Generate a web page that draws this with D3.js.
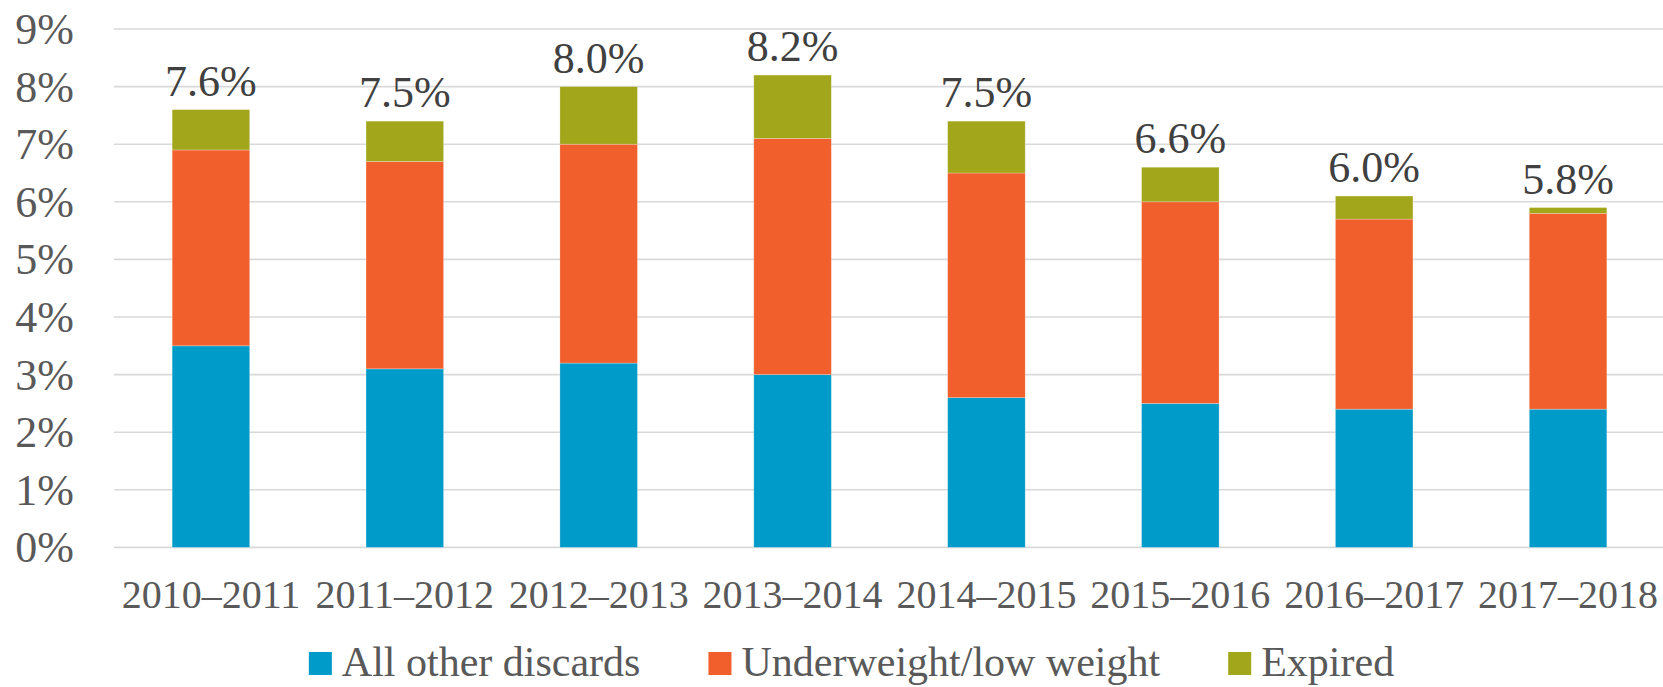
<!DOCTYPE html>
<html>
<head>
<meta charset="utf-8">
<script src="https://cdn.jsdelivr.net/npm/d3@7"></script>
<style>
  body { margin: 0; background: #fff; }
  svg { display: block; font-family: "Liberation Serif", "DejaVu Serif", serif; }
</style>
</head>
<body>
<div id="chart"></div>
<script>
const years = ['2010–2011', '2011–2012', '2012–2013', '2013–2014', '2014–2015', '2015–2016', '2016–2017', '2017–2018'];
const otherDiscards = [3.5, 3.1, 3.2, 3.0, 2.6, 2.5, 2.4, 2.4];
const underweight = [3.4, 3.6, 3.8, 4.1, 3.9, 3.5, 3.3, 3.4];
const expired = [0.7, 0.7, 1.0, 1.1, 0.9, 0.6, 0.4, 0.1];
const totalLabels = ['7.6%', '7.5%', '8.0%', '8.2%', '7.5%', '6.6%', '6.0%', '5.8%'];
const seriesNames = ['All other discards', 'Underweight/low weight', 'Expired'];
const yTicks = [0, 1, 2, 3, 4, 5, 6, 7, 8, 9];

const colors = ['#009BC8', '#F15F2C', '#A1A61A'];

const width = 1663;
const height = 687;

const rows = years.map((y, i) => ({
  year: y,
  s0: otherDiscards[i],
  s1: underweight[i],
  s2: expired[i],
  label: totalLabels[i]
}));

const stack = d3.stack().keys(['s0', 's1', 's2'])(rows);

const x = d3.scaleBand()
  .domain(years)
  .range([114, 1665])
  .paddingInner(0.6)
  .paddingOuter(0.3);

const y = d3.scaleLinear().domain([0, 9]).range([547.4, 29]);

const svg = d3.select('#chart')
  .append('svg')
  .attr('width', width)
  .attr('height', height);

// gridlines
svg.append('g')
  .selectAll('line')
  .data(yTicks)
  .join('line')
  .attr('x1', 114)
  .attr('x2', width)
  .attr('y1', d => y(d))
  .attr('y2', d => y(d))
  .attr('stroke', '#d9d9d9')
  .attr('stroke-width', 1.6);

// y labels
svg.append('g')
  .selectAll('text')
  .data(yTicks)
  .join('text')
  .attr('x', 74)
  .attr('y', d => y(d) + 15)
  .attr('text-anchor', 'end')
  .attr('font-size', 44)
  .attr('fill', '#595959')
  .text(d => d + '%');

// bars
svg.append('g')
  .selectAll('g')
  .data(stack)
  .join('g')
  .attr('fill', (d, i) => colors[i])
  .selectAll('rect')
  .data(d => d)
  .join('rect')
  .attr('x', d => x(d.data.year))
  .attr('width', x.bandwidth())
  .attr('y', d => y(d[1]))
  .attr('height', d => y(d[0]) - y(d[1]))
  .attr('stroke', 'rgba(255,255,255,0.35)')
  .attr('stroke-width', 0.75);

// total labels above each stack
const topLayer = stack[stack.length - 1];
svg.append('g')
  .selectAll('text')
  .data(topLayer)
  .join('text')
  .attr('x', d => x(d.data.year) + x.bandwidth() / 2)
  .attr('y', d => y(d[1]) - 14)
  .attr('text-anchor', 'middle')
  .attr('font-size', 44)
  .attr('fill', '#404040')
  .text(d => d.data.label);

// x labels
svg.append('g')
  .selectAll('text')
  .data(years)
  .join('text')
  .attr('x', d => x(d) + x.bandwidth() / 2)
  .attr('y', 608)
  .attr('text-anchor', 'middle')
  .attr('font-size', 40)
  .attr('fill', '#595959')
  .text(d => d);

// legend
const legend = svg.append('g');
const items = legend.selectAll('g')
  .data(seriesNames)
  .join('g');

items.append('rect')
  .attr('y', 652)
  .attr('width', 23)
  .attr('height', 23)
  .attr('fill', (d, i) => colors[i]);

items.append('text')
  .attr('x', 33)
  .attr('y', 676)
  .attr('font-size', 42)
  .attr('fill', '#595959')
  .text(d => d);

const widths = [];
items.each(function () {
  widths.push(33 + d3.select(this).select('text').node().getComputedTextLength());
});
const gap = 68;
const total = d3.sum(widths) + gap * (widths.length - 1);
let start = 851.5 - total / 2;
items.attr('transform', (d, i) => {
  const tx = start;
  start += widths[i] + gap;
  return `translate(${tx},0)`;
});
</script>
</body>
</html>
